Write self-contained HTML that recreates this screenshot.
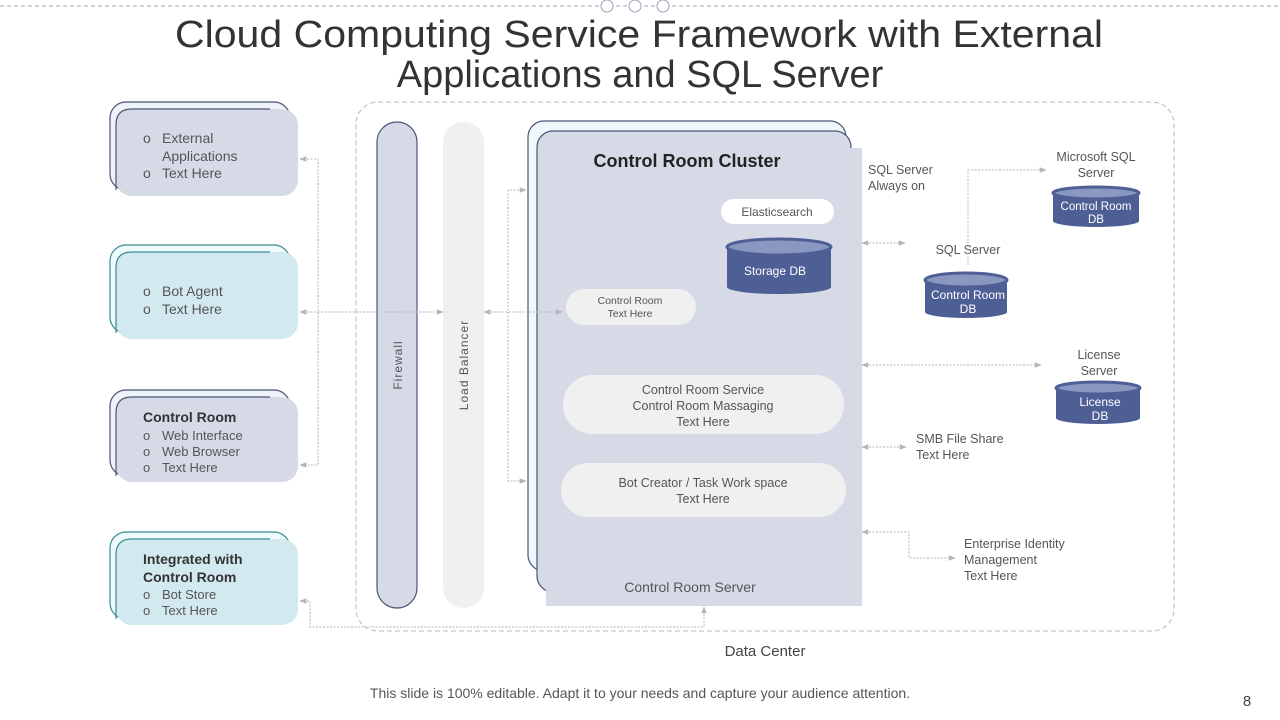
<!DOCTYPE html>
<html><head><meta charset="utf-8"><style>
html,body{margin:0;padding:0;background:#fff;width:1280px;height:720px;overflow:hidden}
svg{display:block;font-family:"Liberation Sans",Arial,sans-serif}
</style></head><body>
<svg width="1280" height="720" viewBox="0 0 1280 720" xmlns="http://www.w3.org/2000/svg">
<defs>
<marker id="a" viewBox="0 0 10 10" refX="9" refY="5" markerWidth="7" markerHeight="7" orient="auto-start-reverse"><path d="M0,1 L10,5 L0,9 z" fill="#b5b5b5"/></marker>
</defs>
<line x1="0" y1="6" x2="1280" y2="6" stroke="#9aa3b8" stroke-dasharray="4,3" stroke-width="1"/>
<g fill="#fff" stroke="#9aa3b8"><circle cx="607" cy="6" r="6"/><circle cx="635" cy="6" r="6"/><circle cx="663" cy="6" r="6"/></g>
<g fill="#333" font-size="38"><text x="175" y="47" textLength="928" lengthAdjust="spacingAndGlyphs">Cloud Computing Service Framework with External</text><text x="640" y="87" text-anchor="middle">Applications and SQL Server</text></g>

<rect x="356" y="102" width="818" height="529" rx="22" fill="none" stroke="#bbb" stroke-dasharray="5,3"/>

<g stroke-width="1.2">
<rect x="110" y="102" width="180" height="88" rx="16" fill="#eef3fa" stroke="#4a5675"/>
<rect x="116" y="109" width="182" height="87" rx="16" fill="#d6dae6" stroke="none"/>
<path d="M116,190 L116,125 Q116,109 132,109 L270,109" fill="none" stroke="#4a5675"/>
<rect x="110" y="245" width="180" height="88" rx="16" fill="#eefafc" stroke="#3a8a90"/>
<rect x="116" y="252" width="182" height="87" rx="16" fill="#d3e9f0"/>
<path d="M116,333 L116,268 Q116,252 132,252 L270,252" fill="none" stroke="#3a8a90"/>
<rect x="110" y="390" width="180" height="86" rx="16" fill="#eef3fa" stroke="#4a5675"/>
<rect x="116" y="397" width="182" height="85" rx="16" fill="#d6dae6"/>
<path d="M116,476 L116,413 Q116,397 132,397 L270,397" fill="none" stroke="#4a5675"/>
<rect x="110" y="532" width="180" height="87" rx="16" fill="#eefafc" stroke="#3a8a90"/>
<rect x="116" y="539" width="182" height="86" rx="16" fill="#d3e9f0"/>
<path d="M116,619 L116,555 Q116,539 132,539 L270,539" fill="none" stroke="#3a8a90"/>
</g>
<g fill="#555" font-size="14">
<text x="143" y="143">o</text><text x="162" y="143">External</text><text x="162" y="161">Applications</text><text x="143" y="178">o</text><text x="162" y="178">Text Here</text>
<text x="143" y="296">o</text><text x="162" y="296">Bot Agent</text><text x="143" y="314">o</text><text x="162" y="314">Text Here</text>
</g>
<g fill="#555" font-size="13">
<text x="143" y="422" font-weight="bold" font-size="14" fill="#333">Control Room</text>
<text x="143" y="440">o</text><text x="162" y="440">Web Interface</text>
<text x="143" y="456">o</text><text x="162" y="456">Web Browser</text>
<text x="143" y="472">o</text><text x="162" y="472">Text Here</text>
<text x="143" y="564" font-weight="bold" font-size="14" fill="#333">Integrated with</text>
<text x="143" y="582" font-weight="bold" font-size="14" fill="#333">Control Room</text>
<text x="143" y="599">o</text><text x="162" y="599">Bot Store</text>
<text x="143" y="615">o</text><text x="162" y="615">Text Here</text>
</g>

<rect x="377" y="122" width="40" height="486" rx="20" fill="#d6dae6" stroke="#4a5675" stroke-width="1.2"/>
<rect x="443" y="122" width="41" height="486" rx="20" fill="#f0f0f0"/>
<text transform="translate(402,365) rotate(-90)" text-anchor="middle" font-size="12" fill="#555" letter-spacing="1">Firewall</text>
<text transform="translate(468,365) rotate(-90)" text-anchor="middle" font-size="12" fill="#555" letter-spacing="1">Load Balancer</text>

<rect x="528" y="121" width="318" height="450" rx="16" fill="#f0f8fc" stroke="#4a5675" stroke-width="1.2"/>
<rect x="537" y="131" width="314" height="461" rx="16" fill="#d6dae6" stroke="#4a5675" stroke-width="1.2"/>
<rect x="546" y="148" width="316" height="458" fill="#d6dae6"/>
<text x="687" y="167" text-anchor="middle" font-size="18" font-weight="bold" fill="#222">Control Room Cluster</text>
<rect x="721" y="199" width="113" height="25" rx="12.5" fill="#fff"/>
<text x="777" y="216" text-anchor="middle" font-size="12" fill="#555">Elasticsearch</text>
<rect x="566" y="289" width="130" height="36" rx="18" fill="#f0f0f0"/>
<text x="630" y="304" text-anchor="middle" font-size="10.5" fill="#555">Control Room</text>
<text x="630" y="317" text-anchor="middle" font-size="10.5" fill="#555">Text Here</text>
<rect x="563" y="375" width="281" height="59" rx="29" fill="#f0f0f0"/>
<g text-anchor="middle" font-size="12.5" fill="#555">
<text x="703" y="394">Control Room Service</text><text x="703" y="410">Control Room Massaging</text><text x="703" y="426">Text Here</text>
</g>
<rect x="561" y="463" width="285" height="54" rx="27" fill="#f0f0f0"/>
<g text-anchor="middle" font-size="12.5" fill="#555"><text x="703" y="487">Bot Creator / Task Work space</text><text x="703" y="503">Text Here</text></g>
<text x="690" y="592" text-anchor="middle" font-size="14" fill="#555">Control Room Server</text>

<g>
<path d="M727,247 L727,287 A52,7 0 0 0 831,287 L831,247" fill="#4e5f95"/>
<ellipse cx="779" cy="247" rx="52" ry="8" fill="#8a97c0" stroke="#4e5f95" stroke-width="3"/>
<text x="775" y="275" text-anchor="middle" font-size="12" fill="#fff">Storage DB</text>
<path d="M925,280 L925,312 A41,6 0 0 0 1007,312 L1007,280" fill="#4e5f95"/>
<ellipse cx="966" cy="280" rx="41" ry="7" fill="#8a97c0" stroke="#4e5f95" stroke-width="3"/>
<text x="968" y="299" text-anchor="middle" font-size="12" fill="#fff">Control Room</text><text x="968" y="313" text-anchor="middle" font-size="12" fill="#fff">DB</text>
<path d="M1053,193 L1053,221 A43,6 0 0 0 1139,221 L1139,193" fill="#4e5f95"/>
<ellipse cx="1096" cy="193" rx="43" ry="6" fill="#8a97c0" stroke="#4e5f95" stroke-width="3"/>
<text x="1096" y="210" text-anchor="middle" font-size="11.5" fill="#fff">Control Room</text><text x="1096" y="223" text-anchor="middle" font-size="11.5" fill="#fff">DB</text>
<path d="M1056,388 L1056,418 A42,6 0 0 0 1140,418 L1140,388" fill="#4e5f95"/>
<ellipse cx="1098" cy="388" rx="42" ry="6" fill="#8a97c0" stroke="#4e5f95" stroke-width="3"/>
<text x="1100" y="406" text-anchor="middle" font-size="12" fill="#fff">License</text><text x="1100" y="420" text-anchor="middle" font-size="12" fill="#fff">DB</text>
</g>

<g font-size="12.5" fill="#555">
<text x="868" y="174">SQL Server</text><text x="868" y="190">Always on</text>
<text x="1096" y="161" text-anchor="middle">Microsoft SQL</text><text x="1096" y="177" text-anchor="middle">Server</text>
<text x="968" y="254" text-anchor="middle">SQL Server</text>
<text x="1099" y="359" text-anchor="middle">License</text><text x="1099" y="375" text-anchor="middle">Server</text>
<text x="916" y="443">SMB File Share</text><text x="916" y="459">Text Here</text>
<text x="964" y="548">Enterprise Identity</text><text x="964" y="564">Management</text><text x="964" y="580">Text Here</text>
</g>

<g fill="none" stroke="#b5b5b5" stroke-width="1" stroke-dasharray="2,1.5">
<path d="M300,159 L318,159 L318,465 L300,465" marker-start="url(#a)" marker-end="url(#a)"/>
<path d="M300,312 L443,312" marker-start="url(#a)" marker-end="url(#a)"/>
<path d="M484,312 L562,312" marker-start="url(#a)" marker-end="url(#a)"/>
<path d="M526,190 L508,190 L508,481 L526,481" marker-start="url(#a)" marker-end="url(#a)"/>
<path d="M300,601 L310,601 L310,627 L704,627 L704,607" marker-start="url(#a)" marker-end="url(#a)"/>
<path d="M862,243 L905,243" marker-start="url(#a)" marker-end="url(#a)"/>
<path d="M968,265 L968,170 L1046,170" marker-end="url(#a)"/>
<path d="M862,365 L1041,365" marker-start="url(#a)" marker-end="url(#a)"/>
<path d="M862,447 L906,447" marker-start="url(#a)" marker-end="url(#a)"/>
<path d="M862,532 L909,532 L909,558 L955,558" marker-start="url(#a)" marker-end="url(#a)"/>
</g>

<text x="765" y="656" text-anchor="middle" font-size="15" fill="#444">Data Center</text>
<text x="640" y="698" text-anchor="middle" font-size="14" fill="#555">This slide is 100% editable. Adapt it to your needs and capture your audience attention.</text>
<text x="1247" y="706" text-anchor="middle" font-size="15" fill="#444">8</text>
</svg>
</body></html>
